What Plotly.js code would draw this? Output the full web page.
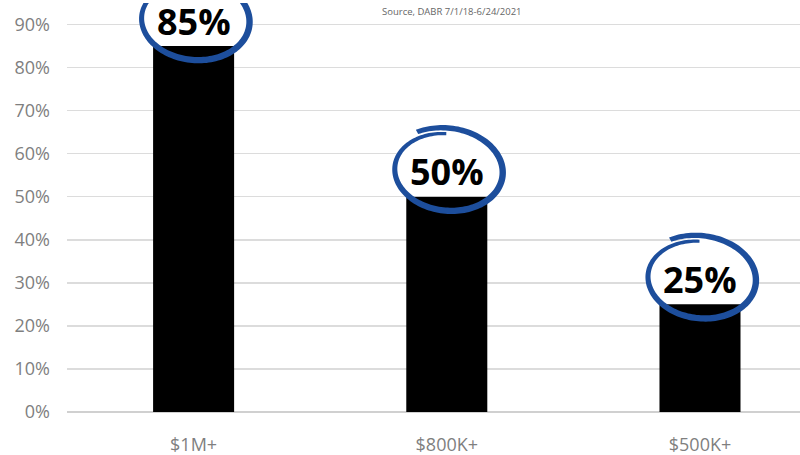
<!DOCTYPE html>
<html><head><meta charset="utf-8">
<script src="https://cdn.plot.ly/plotly-3.0.1.min.js"></script>
<style>html,body{margin:0;padding:0;background:#fff}#chart{width:800px;height:455px}</style>
</head><body><div id="chart"></div>
<script>
const categories = ['$1M+', '$800K+', '$500K+'];
const shares = [0.85, 0.50, 0.25];
const yTickValues = [0, 0.1, 0.2, 0.3, 0.4, 0.5, 0.6, 0.7, 0.8, 0.9];
const yTickLabels = ['0%', '10%', '20%', '30%', '40%', '50%', '60%', '70%', '80%', '90%'];
const sourceNote = 'Source, DABR 7/1/18-6/24/2021';

const BLUE = '#1d4e9c';
const RX = 57, RY = 42, CY = 26, TILT = -6 * Math.PI / 180;

function pt(x, y) {
  const c = Math.cos(TILT), s = Math.sin(TILT);
  return [(x * c - y * s).toFixed(2), (x * s + y * c + CY).toFixed(2)];
}
function swooshPath() {
  const n = 160, a0 = 95 * Math.PI / 180, a1 = (95 + 390) * Math.PI / 180;
  const outer = [], inner = [];
  for (let k = 0; k <= n; k++) {
    const t = k / n, a = a0 + (a1 - a0) * t;
    const sc = 0.88 + 0.15 * t;
    const w = 2.5 + 4 * Math.sin(Math.PI * (0.05 + 0.75 * t));
    outer.push(pt((RX * sc + w / 2) * Math.cos(a), (RY * sc + w / 2) * Math.sin(a)));
    inner.push(pt((RX * sc - w / 2) * Math.cos(a), (RY * sc - w / 2) * Math.sin(a)));
  }
  const pts = outer.concat(inner.reverse());
  return 'M' + pts.map(p => p.join(',')).join('L') + 'Z';
}
function fillPath() {
  const n = 90, pts = [];
  for (let k = 0; k < n; k++) {
    const a = 2 * Math.PI * k / n;
    pts.push(pt(RX * 0.95 * Math.cos(a), RY * 0.95 * Math.sin(a)));
  }
  return 'M' + pts.map(p => p.join(',')).join('L') + 'Z';
}

const shapes = [];
categories.forEach((c, i) => {
  shapes.push({type: 'path', xref: 'x', yref: 'y', xsizemode: 'pixel', ysizemode: 'pixel',
    xanchor: c, yanchor: shares[i], path: fillPath(), fillcolor: '#ffffff',
    line: {width: 0}, layer: 'between'});
  shapes.push({type: 'path', xref: 'x', yref: 'y', xsizemode: 'pixel', ysizemode: 'pixel',
    xanchor: c, yanchor: shares[i], path: swooshPath(), fillcolor: BLUE,
    line: {width: 0}, layer: 'above'});
});

const annotations = categories.map((c, i) => ({
  x: c, y: shares[i], xref: 'x', yref: 'y', yshift: 25, showarrow: false,
  text: '<b>' + Math.round(shares[i] * 100) + '%</b>', yanchor: 'middle',
  font: {family: 'Open Sans', size: 36, color: '#000'}
}));
annotations.push({xref: 'paper', yref: 'paper', x: 0.525, y: 0.978, showarrow: false,
  text: sourceNote, yanchor: 'middle', font: {family: 'Open Sans', size: 9.5, color: '#666'}});

const trace = {type: 'bar', x: categories, y: shares, width: 0.32,
  marker: {color: '#000000'}, hoverinfo: 'skip'};

const layout = {
  width: 800, height: 455, margin: {l: 67, r: 0, t: 3, b: 43},
  paper_bgcolor: '#fff', plot_bgcolor: '#fff', showlegend: false,
  xaxis: {type: 'category', range: [-0.5, 2.395], showgrid: false, zeroline: false, ticks: '',
    tickfont: {family: 'Open Sans', size: 18, color: '#7f7f7f'}, ticklabelstandoff: 20, automargin: false},
  yaxis: {range: [0, 0.95], tickvals: yTickValues, ticktext: yTickLabels, showgrid: true,
    gridcolor: '#dcdcdc', gridwidth: 1.5, zeroline: true, zerolinecolor: '#d0d0d0', zerolinewidth: 1.5,
    ticks: '', tickfont: {family: 'Open Sans', size: 18, color: '#7f7f7f'}, ticklabelstandoff: 16, automargin: false},
  shapes: shapes, annotations: annotations
};
Plotly.newPlot('chart', [trace], layout, {displayModeBar: false, staticPlot: true});
</script></body></html>
